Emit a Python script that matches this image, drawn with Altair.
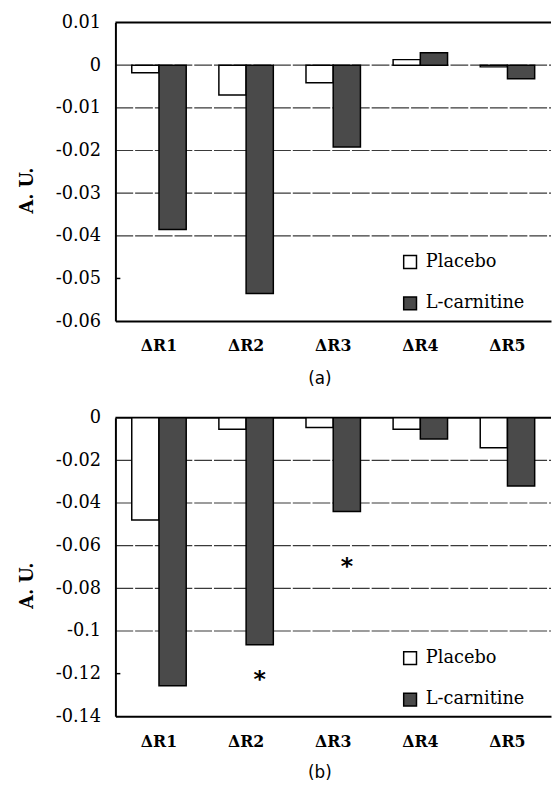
import altair as alt
import pandas as pd

categories = ["ΔR1", "ΔR2", "ΔR3", "ΔR4", "ΔR5"]
groups = ["Placebo", "L-carnitine"]

placebo_a = [-0.0018, -0.0070, -0.0041, 0.0013, -0.0004]
carnitine_a = [-0.0385, -0.0535, -0.0192, 0.0029, -0.0032]
placebo_b = [-0.0480, -0.0054, -0.0046, -0.0054, -0.0141]
carnitine_b = [-0.1257, -0.1065, -0.0440, -0.0100, -0.0320]

ticks_a = [0.01, 0, -0.01, -0.02, -0.03, -0.04, -0.05, -0.06]
ticks_b = [0, -0.02, -0.04, -0.06, -0.08, -0.1, -0.12, -0.14]
grid_a = [0, -0.01, -0.02, -0.03, -0.04]
grid_b = [-0.02, -0.04, -0.06, -0.08, -0.1]
short_a = [-0.05]
short_b = [-0.12]
star_cats = ["ΔR2", "ΔR3"]
star_vals = [-0.12, -0.067]

W = 442
H = 303
SERIF = "DejaVu Serif"


def panel(plac, carn, ticks, grid, short, caption, legend_y, lab_pad, cap_y,
          s_cats=None, s_vals=None):
    dom = [min(ticks), max(ticks)]
    df = pd.DataFrame({"cat": categories * 2,
                       "grp": [groups[0]] * 5 + [groups[1]] * 5,
                       "val": plac + carn})
    yscale = alt.Scale(domain=dom, nice=False, zero=False)
    xscale = alt.Scale(paddingInner=0, paddingOuter=0)
    offscale = alt.Scale(domain=groups, paddingInner=0, paddingOuter=0.6)
    yaxis = alt.Axis(values=ticks, labelExpr="toString(datum.value)",
                     grid=False, ticks=False, tickSize=0, domain=True,
                     domainColor="black", domainWidth=2,
                     labelFont=SERIF, labelFontSize=18, labelColor="black",
                     labelPadding=15, title="A. U.", titleFont=SERIF,
                     titleFontSize=18, titleFontWeight="bold",
                     titleColor="black", titleX=-89, titleY=170,
                     titleAngle=270, titleAlign="center",
                     titleBaseline="middle", zindex=1)

    gridl = alt.Chart(pd.DataFrame({"val": grid})).mark_rule(
        color="#3a3a3a", strokeWidth=1.2, strokeDash=[18, 2]
    ).encode(y=alt.Y("val:Q", scale=yscale, axis=yaxis),
             x=alt.value(0), x2=alt.value(W))
    topl = alt.Chart(pd.DataFrame({"val": [max(ticks)]})).mark_rule(
        color="black", strokeWidth=2
    ).encode(y=alt.Y("val:Q", scale=yscale, axis=yaxis),
             x=alt.value(0), x2=alt.value(W))
    shortl = alt.Chart(pd.DataFrame({"val": short})).mark_rule(
        color="black", strokeWidth=1.5
    ).encode(y=alt.Y("val:Q", scale=yscale, axis=yaxis),
             x=alt.value(0), x2=alt.value(5))

    bars = alt.Chart(df).mark_bar(stroke="black", strokeWidth=1.5).encode(
        x=alt.X("cat:N", sort=categories, scale=xscale,
                axis=alt.Axis(title=caption, labelFont=SERIF, labelFontWeight="bold",
                              labelFontSize=16, labelColor="black", labelAngle=0,
                              labelBaseline="middle", labelPadding=lab_pad,
                              ticks=False, tickSize=0, domain=True,
                              domainColor="black", domainWidth=2,
                              titleFont="DejaVu Sans", titleFontSize=17,
                              titleFontWeight="normal", titleColor="black",
                              titleX=207, titleY=cap_y, titleBaseline="middle",
                              titleAlign="center", zindex=1)),
        xOffset=alt.XOffset("grp:N", sort=groups, scale=offscale),
        y=alt.Y("val:Q", scale=yscale, axis=yaxis),
        color=alt.Color("grp:N", sort=groups,
                        scale=alt.Scale(domain=groups, range=["white", "#4a4a4a"]),
                        legend=alt.Legend(title=None, orient="none", legendX=290,
                                          legendY=legend_y, direction="vertical",
                                          symbolType="square", symbolSize=169,
                                          symbolStrokeColor="black",
                                          symbolStrokeWidth=1.5, symbolOpacity=1,
                                          labelFont=SERIF, labelFontSize=18,
                                          labelColor="black", labelOffset=7,
                                          rowPadding=22, padding=0)),
    )
    layers = [gridl, topl, shortl, bars]
    if s_cats:
        sdf = pd.DataFrame({"cat": s_cats, "grp": [groups[1]] * len(s_cats),
                            "val": s_vals, "t": ["*"] * len(s_cats)})
        stars = alt.Chart(sdf).mark_text(font="DejaVu Sans", fontSize=24,
                                         fontWeight="bold", color="black",
                                         dy=7).encode(
            x=alt.X("cat:N", sort=categories, scale=xscale),
            xOffset=alt.XOffset("grp:N", sort=groups, scale=offscale),
            y=alt.Y("val:Q", scale=yscale, axis=yaxis),
            text="t:N",
        )
        layers.append(stars)
    return alt.layer(*layers).properties(width=W, height=H)


pa = panel(placebo_a, carnitine_a, ticks_a, grid_a, short_a, "(a)", 234, 25, 58)
pb = panel(placebo_b, carnitine_b, ticks_b, grid_b, short_b, "(b)", 235, 26, 57,
           star_cats, star_vals)

chart = alt.vconcat(pa, pb, spacing=23).resolve_scale(
    color="independent"
).resolve_legend(color="independent").properties(
    padding={"left": 11, "top": 0, "right": 0, "bottom": 0}
).configure_view(stroke=None)

chart.save("out.html", embed_options={"renderer": "svg", "actions": False})
